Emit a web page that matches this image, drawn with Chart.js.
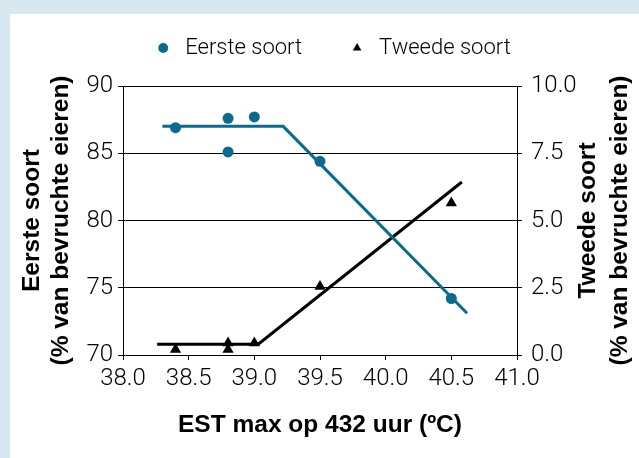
<!DOCTYPE html>
<html>
<head>
<meta charset="utf-8">
<script src="https://cdn.jsdelivr.net/npm/chart.js@4.4.0/dist/chart.umd.min.js"></script>
<style>
html, body { margin: 0; padding: 0; background: #fff; }
#wrap { width: 639px; height: 458px; }
</style>
</head>
<body>
<div id="wrap"><canvas id="myChart" width="639" height="458"></canvas></div>
<script>
// meetpunten
const tempEerste = [38.4, 38.8, 38.8, 39.0, 39.5, 40.5];
const valEerste  = [86.9, 87.6, 85.1, 87.7, 84.4, 74.2];
const tempTweede = [38.4, 38.8, 38.8, 39.0, 39.5, 40.5];
const valTweede  = [0.2, 0.2, 0.45, 0.45, 2.55, 5.65];

// gebroken lijnen
const fitEersteX = [38.3, 39.22, 40.62];
const fitEersteY = [87.0, 87.0, 73.1];
const fitTweedeX = [38.26, 39.03, 40.58];
const fitTweedeY = [0.4, 0.4, 6.43];

// assen
const xTicks  = [38.0, 38.5, 39.0, 39.5, 40.0, 40.5, 41.0];
const yTicks  = [70, 75, 80, 85, 90];
const y2Ticks = [0, 2.5, 5, 7.5, 10];
const xTitel  = 'EST max op 432 uur (ºC)';
const yTitel  = ['Eerste soort', '(% van bevruchte eieren)'];
const y2Titel = ['Tweede soort', '(% van bevruchte eieren)'];

const teal = '#0b6b8f';
const tickFont = { family: 'Roboto, sans-serif', size: 24, weight: '300' };
const legFont = { family: 'Roboto, sans-serif', size: 22, weight: '300' };
const boldFont = '"Liberation Sans", Arial, sans-serif';

function pts(xs, ys) {
  return xs.map((x, i) => ({ x: x, y: ys[i] }));
}

const achtergrond = {
  id: 'achtergrond',
  beforeDraw(chart) {
    const ctx = chart.ctx;
    ctx.save();
    ctx.fillStyle = '#ffffff';
    ctx.fillRect(0, 0, chart.width, chart.height);
    ctx.fillStyle = '#d8e8f1';
    ctx.fillRect(0, 0, chart.width, 14);
    ctx.fillRect(0, 0, 10, chart.height);
    ctx.restore();
  }
};

// beide y-titels lezen van onder naar boven
const asTitels = {
  id: 'asTitels',
  afterDraw(chart) {
    const ctx = chart.ctx, a = chart.chartArea;
    const midY = (a.top + a.bottom) / 2;
    const rij = [[a.left - 91, yTitel[0]], [a.left - 62, yTitel[1]],
                 [a.right + 71, y2Titel[0]], [a.right + 103, y2Titel[1]]];
    ctx.save();
    ctx.font = 'bold 24.5px ' + boldFont;
    ctx.fillStyle = '#000';
    ctx.textAlign = 'center';
    ctx.textBaseline = 'middle';
    rij.forEach(([x, t]) => {
      ctx.save();
      ctx.translate(x, midY);
      ctx.rotate(-Math.PI / 2);
      ctx.fillText(t, 0, 0);
      ctx.restore();
    });
    ctx.restore();
  }
};

new Chart('myChart', {
  type: 'scatter',
  data: {
    datasets: [{
      label: 'Eerste soort',
      data: pts(tempEerste, valEerste),
      yAxisID: 'y',
      pointStyle: 'circle',
      pointRadius: 5.5,
      borderWidth: 0,
      backgroundColor: teal,
      borderColor: teal
    }, {
      label: 'Tweede soort',
      data: pts(tempTweede, valTweede),
      yAxisID: 'y2',
      pointStyle: 'triangle',
      pointRadius: 6.5,
      borderWidth: 0,
      backgroundColor: '#000',
      borderColor: '#000'
    }, {
      label: 'fit eerste',
      data: pts(fitEersteX, fitEersteY),
      yAxisID: 'y',
      showLine: true,
      pointRadius: 0,
      borderWidth: 3,
      borderColor: teal
    }, {
      label: 'fit tweede',
      data: pts(fitTweedeX, fitTweedeY),
      yAxisID: 'y2',
      showLine: true,
      pointRadius: 0,
      borderWidth: 3,
      borderColor: '#000'
    }]
  },
  options: {
    responsive: false,
    animation: false,
    events: [],
    layout: { padding: { top: -7, left: 24, right: 0, bottom: 0 } },
    plugins: {
      tooltip: { enabled: false },
      legend: {
        weight: 2000,
        labels: {
          usePointStyle: true,
          boxWidth: 22,
          boxHeight: 7,
          padding: 44,
          color: '#000',
          font: legFont,
          filter: item => item.datasetIndex < 2
        }
      },
      subtitle: {
        display: true,
        text: '',
        weight: 500,
        padding: 0,
        font: { size: 17, lineHeight: 1 }
      }
    },
    scales: {
      x: {
        type: 'linear',
        min: 38, max: 41,
        afterBuildTicks: s => { s.ticks = xTicks.map(v => ({ value: v })); },
        afterFit: s => { s.height = 103; },
        grid: { drawOnChartArea: false, drawTicks: true, tickLength: 5, color: '#000' },
        border: { color: '#000', width: 1 },
        ticks: { color: '#000', font: tickFont, padding: 5, maxRotation: 0, callback: v => v.toFixed(1) },
        title: { display: true, text: xTitel, color: '#000', font: { family: boldFont, size: 24.5, weight: 'bold' }, padding: { top: 0, bottom: 18 } }
      },
      y: {
        position: 'left',
        min: 70, max: 90,
        afterBuildTicks: s => { s.ticks = yTicks.map(v => ({ value: v })); },
        afterFit: s => { s.width = 99; },
        grid: { color: '#000', lineWidth: 1, drawTicks: true, tickLength: 5 },
        border: { color: '#000', width: 1 },
        ticks: { color: '#000', font: tickFont, padding: 5, callback: v => String(v) }
      },
      y2: {
        position: 'right',
        min: 0, max: 10,
        afterBuildTicks: s => { s.ticks = y2Ticks.map(v => ({ value: v })); },
        afterFit: s => { s.width = 122; },
        grid: { drawOnChartArea: false, color: '#000', drawTicks: true, tickLength: 5 },
        border: { color: '#000', width: 1 },
        ticks: { color: '#000', font: tickFont, padding: 9, callback: v => v.toFixed(1) }
      }
    }
  },
  plugins: [achtergrond, asTitels]
});
</script>
</body>
</html>
